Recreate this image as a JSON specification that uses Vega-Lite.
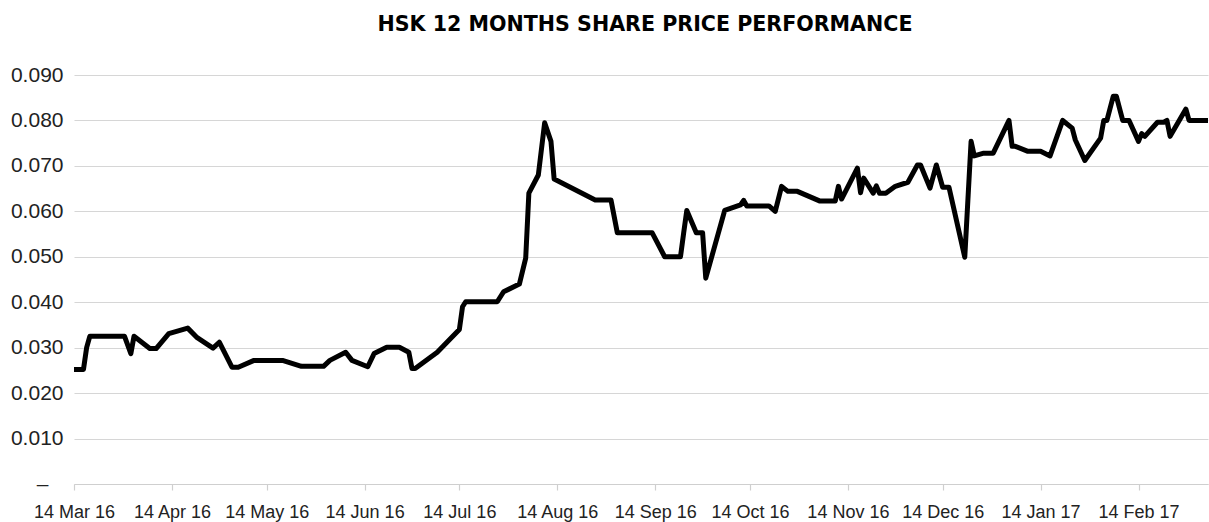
{
  "$schema": "https://vega.github.io/schema/vega-lite/v6.json",
  "autosize": {"type": "none"},
  "padding": {"left": 74, "top": 75, "right": 1, "bottom": 38},
  "width": 1134,
  "height": 409,
  "background": "white",
  "title": {
    "text": "HSK 12 MONTHS SHARE PRICE PERFORMANCE",
    "font": "DejaVu Sans",
    "fontWeight": "bold",
    "fontSize": 20.6,
    "color": "#000000",
    "anchor": "middle",
    "frame": "group",
    "offset": 28,
    "dx": 4
  },
  "config": {
    "view": {"stroke": null},
    "axis": {"labelColor": "#222222", "labelFont": "Liberation Sans"}
  },
  "data": {
    "values": [
      {"date": "2016-03-14", "price": 0.0252},
      {"date": "2016-03-17", "price": 0.0252},
      {"date": "2016-03-18", "price": 0.0300},
      {"date": "2016-03-19", "price": 0.0325},
      {"date": "2016-03-30", "price": 0.0325},
      {"date": "2016-04-01", "price": 0.0287},
      {"date": "2016-04-02", "price": 0.0325},
      {"date": "2016-04-07", "price": 0.0298},
      {"date": "2016-04-09", "price": 0.0298},
      {"date": "2016-04-13", "price": 0.0331},
      {"date": "2016-04-19", "price": 0.0343},
      {"date": "2016-04-22", "price": 0.0322},
      {"date": "2016-04-27", "price": 0.0299},
      {"date": "2016-04-29", "price": 0.0312},
      {"date": "2016-05-03", "price": 0.0257},
      {"date": "2016-05-05", "price": 0.0257},
      {"date": "2016-05-10", "price": 0.0272},
      {"date": "2016-05-19", "price": 0.0272},
      {"date": "2016-05-25", "price": 0.0259},
      {"date": "2016-06-01", "price": 0.0259},
      {"date": "2016-06-03", "price": 0.0272},
      {"date": "2016-06-08", "price": 0.0290},
      {"date": "2016-06-10", "price": 0.0272},
      {"date": "2016-06-15", "price": 0.0258},
      {"date": "2016-06-17", "price": 0.0287},
      {"date": "2016-06-21", "price": 0.0301},
      {"date": "2016-06-25", "price": 0.0301},
      {"date": "2016-06-28", "price": 0.0290},
      {"date": "2016-06-29", "price": 0.0254},
      {"date": "2016-06-30", "price": 0.0254},
      {"date": "2016-07-07", "price": 0.0290},
      {"date": "2016-07-14", "price": 0.0340},
      {"date": "2016-07-15", "price": 0.0390},
      {"date": "2016-07-16", "price": 0.0401},
      {"date": "2016-07-26", "price": 0.0401},
      {"date": "2016-07-28", "price": 0.0423},
      {"date": "2016-08-02", "price": 0.0440},
      {"date": "2016-08-04", "price": 0.0497},
      {"date": "2016-08-05", "price": 0.0640},
      {"date": "2016-08-08", "price": 0.0680},
      {"date": "2016-08-10", "price": 0.0795},
      {"date": "2016-08-12", "price": 0.0754},
      {"date": "2016-08-13", "price": 0.0671},
      {"date": "2016-08-26", "price": 0.0625},
      {"date": "2016-08-31", "price": 0.0625},
      {"date": "2016-09-02", "price": 0.0553},
      {"date": "2016-09-13", "price": 0.0553},
      {"date": "2016-09-17", "price": 0.0500},
      {"date": "2016-09-22", "price": 0.0500},
      {"date": "2016-09-23", "price": 0.0552},
      {"date": "2016-09-24", "price": 0.0602},
      {"date": "2016-09-27", "price": 0.0553},
      {"date": "2016-09-29", "price": 0.0553},
      {"date": "2016-09-30", "price": 0.0453},
      {"date": "2016-10-06", "price": 0.0602},
      {"date": "2016-10-11", "price": 0.0614},
      {"date": "2016-10-12", "price": 0.0624},
      {"date": "2016-10-13", "price": 0.0612},
      {"date": "2016-10-20", "price": 0.0612},
      {"date": "2016-10-22", "price": 0.0600},
      {"date": "2016-10-24", "price": 0.0655},
      {"date": "2016-10-26", "price": 0.0644},
      {"date": "2016-10-29", "price": 0.0644},
      {"date": "2016-11-05", "price": 0.0623},
      {"date": "2016-11-10", "price": 0.0623},
      {"date": "2016-11-11", "price": 0.0655},
      {"date": "2016-11-12", "price": 0.0627},
      {"date": "2016-11-17", "price": 0.0695},
      {"date": "2016-11-18", "price": 0.0641},
      {"date": "2016-11-19", "price": 0.0673},
      {"date": "2016-11-22", "price": 0.0640},
      {"date": "2016-11-23", "price": 0.0656},
      {"date": "2016-11-24", "price": 0.0640},
      {"date": "2016-11-26", "price": 0.0640},
      {"date": "2016-11-29", "price": 0.0655},
      {"date": "2016-12-03", "price": 0.0664},
      {"date": "2016-12-06", "price": 0.0702},
      {"date": "2016-12-07", "price": 0.0702},
      {"date": "2016-12-10", "price": 0.0651},
      {"date": "2016-12-12", "price": 0.0702},
      {"date": "2016-12-14", "price": 0.0653},
      {"date": "2016-12-16", "price": 0.0653},
      {"date": "2016-12-21", "price": 0.0499},
      {"date": "2016-12-23", "price": 0.0754},
      {"date": "2016-12-24", "price": 0.0722},
      {"date": "2016-12-27", "price": 0.0728},
      {"date": "2016-12-30", "price": 0.0728},
      {"date": "2017-01-04", "price": 0.0800},
      {"date": "2017-01-05", "price": 0.0743},
      {"date": "2017-01-06", "price": 0.0743},
      {"date": "2017-01-10", "price": 0.0732},
      {"date": "2017-01-14", "price": 0.0732},
      {"date": "2017-01-17", "price": 0.0722},
      {"date": "2017-01-21", "price": 0.0800},
      {"date": "2017-01-24", "price": 0.0783},
      {"date": "2017-01-25", "price": 0.0757},
      {"date": "2017-01-28", "price": 0.0712},
      {"date": "2017-02-02", "price": 0.0761},
      {"date": "2017-02-03", "price": 0.0800},
      {"date": "2017-02-04", "price": 0.0800},
      {"date": "2017-02-06", "price": 0.0853},
      {"date": "2017-02-07", "price": 0.0853},
      {"date": "2017-02-09", "price": 0.0800},
      {"date": "2017-02-11", "price": 0.0800},
      {"date": "2017-02-14", "price": 0.0754},
      {"date": "2017-02-15", "price": 0.0771},
      {"date": "2017-02-16", "price": 0.0765},
      {"date": "2017-02-20", "price": 0.0796},
      {"date": "2017-02-22", "price": 0.0796},
      {"date": "2017-02-23", "price": 0.0800},
      {"date": "2017-02-24", "price": 0.0765},
      {"date": "2017-03-01", "price": 0.0825},
      {"date": "2017-03-02", "price": 0.0800},
      {"date": "2017-03-08", "price": 0.0800}
    ]
  },
  "mark": {"type": "line", "color": "#000000", "strokeWidth": 5, "strokeJoin": "round", "clip": false},
  "encoding": {
    "x": {
      "field": "date",
      "type": "temporal",
      "scale": {
        "type": "utc",
        "domain": [
          {"year": 2016, "month": 3, "date": 14, "utc": true},
          {"year": 2017, "month": 3, "date": 8, "utc": true}
        ]
      },
      "axis": {
        "title": null,
        "format": "%d %b %y",
        "values": [
          {"year": 2016, "month": 3, "date": 14, "utc": true},
          {"year": 2016, "month": 4, "date": 14, "utc": true},
          {"year": 2016, "month": 5, "date": 14, "utc": true},
          {"year": 2016, "month": 6, "date": 14, "utc": true},
          {"year": 2016, "month": 7, "date": 14, "utc": true},
          {"year": 2016, "month": 8, "date": 14, "utc": true},
          {"year": 2016, "month": 9, "date": 14, "utc": true},
          {"year": 2016, "month": 10, "date": 14, "utc": true},
          {"year": 2016, "month": 11, "date": 14, "utc": true},
          {"year": 2016, "month": 12, "date": 14, "utc": true},
          {"year": 2017, "month": 1, "date": 14, "utc": true},
          {"year": 2017, "month": 2, "date": 14, "utc": true}
        ],
        "grid": false,
        "domain": true,
        "domainColor": "#cfcfcf",
        "domainWidth": 1.2,
        "ticks": true,
        "tickColor": "#cfcfcf",
        "tickWidth": 1.2,
        "tickSize": 6,
        "labelFont": "Liberation Sans",
        "labelFontSize": 18,
        "labelPadding": 13,
        "labelAngle": 0,
        "labelOverlap": false,
        "labelFlush": false
      }
    },
    "y": {
      "field": "price",
      "type": "quantitative",
      "scale": {"domain": [0, 0.09], "nice": false, "zero": true},
      "axis": {
        "title": null,
        "values": [0, 0.01, 0.02, 0.03, 0.04, 0.05, 0.06, 0.07, 0.08, 0.09],
        "labelExpr": "datum.value == 0 ? '–' : format(datum.value, '.3f')",
        "grid": true,
        "gridColor": "#d6d6d6",
        "gridWidth": 1.2,
        "domain": false,
        "ticks": false,
        "tickSize": 0,
        "labelFontSize": 21,
        "labelPadding": {"condition": {"test": "datum.value == 0", "value": 26}, "value": 11},
        "labelFlush": false
      }
    }
  }
}
